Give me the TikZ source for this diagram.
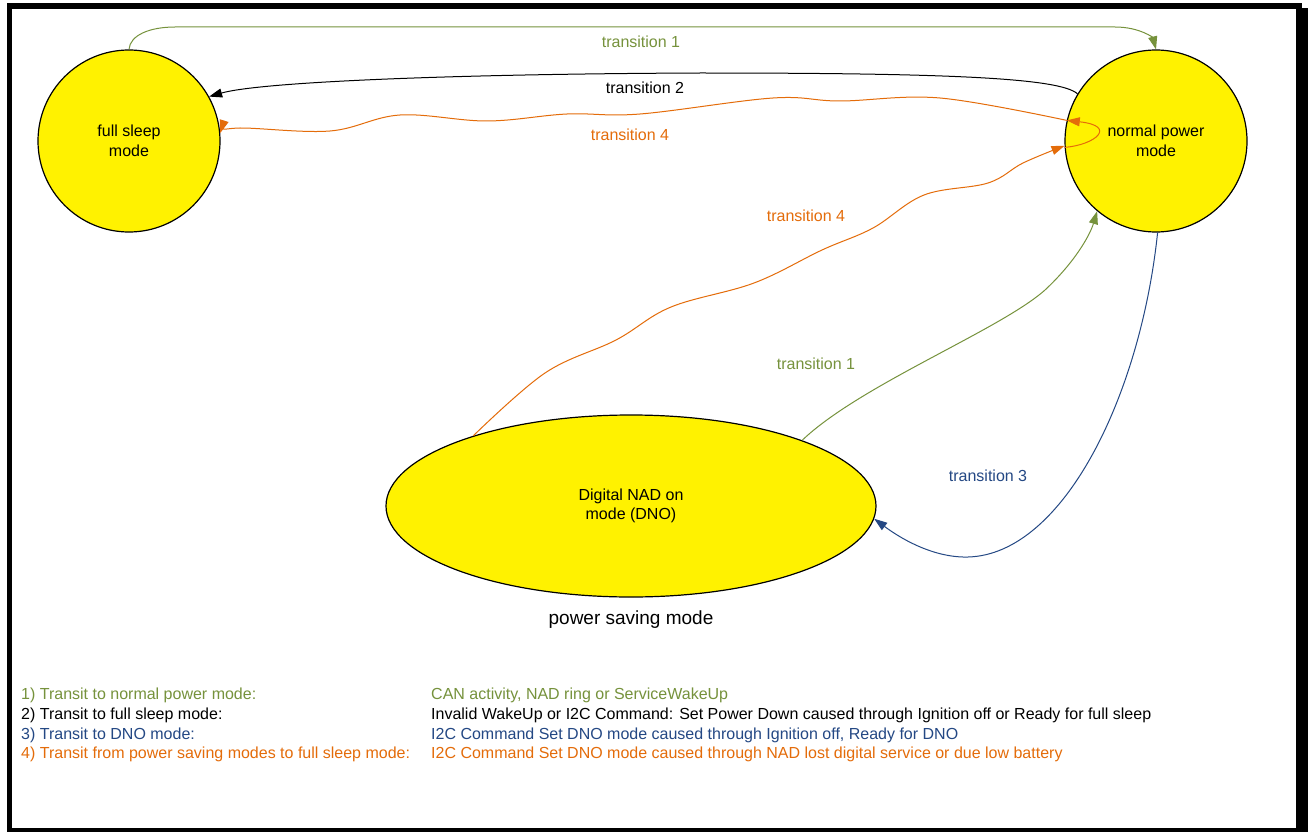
\documentclass[tikz,border=0pt]{standalone}
\usepackage{fontspec}
\setmainfont{Liberation Sans}
\usepackage{tikz}
\usetikzlibrary{arrows.meta,shapes.geometric}
\definecolor{olivegreen}{RGB}{118,146,60}
\definecolor{darkblue}{RGB}{36,72,132}
\definecolor{darkorange}{RGB}{228,108,10}
\tikzset{
  modecircle/.style={circle, draw=black, line width=1.2pt, fill=yellow, minimum size=182pt, inner sep=0pt, align=center, font=\fontsize{16}{19.5}\selectfont},
  trans/.style={line width=1pt, -{Triangle[length=13pt,width=9pt]}},
  lbl/.style={font=\fontsize{16}{19.5}\selectfont},
  legend/.style={anchor=base west, inner sep=0pt, font=\fontsize{16}{19.5}\selectfont}
}

\begin{document}
\begin{tikzpicture}[x=1pt,y=-1pt]
        \useasboundingbox (0,0) rectangle (1311,832);
        % Frame with shadow
        \fill[black] (7,3) rectangle (1302,832);
        \fill[black] (1302,8) rectangle (1308,832);
        \fill[white] (12,9) rectangle (1296,828);

        % States
        \node[modecircle] (sleep) at (129,141) {full sleep\\mode};
        \node[modecircle] (normal) at (1156,141) {normal power\\mode};
        \node[ellipse, draw=black, line width=1.2pt, fill=yellow, minimum width=490pt, minimum height=182pt, inner sep=0pt, align=center, font=\fontsize{16}{19.5}\selectfont] (dno) at (631,506) {Digital NAD on\\mode (DNO)};
        \node[font=\fontsize{19}{22}\selectfont] (saving) at (631,620) {power saving mode};

        % Transitions
        \draw[trans, olivegreen] (sleep.north) .. controls (130,35) and (150,27) .. (175,27) -- (1115,27) .. controls (1140,27) and (1153,38) .. (normal.north);
        \draw[trans, black] (normal.149) .. controls (1060,78) and (950,73) .. (700,73) .. controls (450,74) and (260,82) .. (sleep.29);
        \draw[trans, darkorange] plot[smooth, tension=0.6] coordinates {(normal.167) (940,98) (840,101) (773,98) (640,114) (567,114) (487,121) (400,115) (330,131) (240,128) (sleep.5)};
        \draw[trans, darkorange] plot[smooth, tension=0.6] coordinates {(dno.156) (545,373) (616,340) (671,307) (754,283) (822,250) (873,228) (924,195) (988,183) (1023,163) (normal.183)};
        \draw[trans, darkorange] (normal.184) .. controls (1095,145) and (1118,126) .. (normal.167);
        \draw[trans, olivegreen] (dno.21) .. controls (860,385) and (1000,330) .. (1045,290) .. controls (1075,262) and (1090,235) .. (normal.230);
        \draw[trans, darkblue] (normal.271) .. controls (1140,400) and (1060,560) .. (963,557) .. controls (930,556) and (900,538) .. (dno.357);

        % Transition labels
        \node[lbl, olivegreen] (t1a) at (641,42) {transition 1};
        \node[lbl, black] (t2) at (645,88) {transition 2};
        \node[lbl, darkorange] (t4a) at (630,135) {transition 4};
        \node[lbl, darkorange] (t4b) at (806,216) {transition 4};
        \node[lbl, olivegreen] (t1b) at (816,364) {transition 1};
        \node[lbl, darkblue] (t3) at (988,476) {transition 3};

        % Legend
        \node[legend, olivegreen] (k1) at (21,699) {1) Transit to normal power mode:};
        \node[legend, black] (k2) at (21,719) {2) Transit to full sleep mode:};
        \node[legend, darkblue] (k3) at (21,739) {3) Transit to DNO mode:};
        \node[legend, darkorange] (k4) at (21,758) {4) Transit from power saving modes to full sleep mode:};
        \node[legend, olivegreen] (v1) at (431,699) {CAN activity, NAD ring or ServiceWakeUp};
        \node[legend, black] (v2) at (431,719) {Invalid WakeUp or I2C Command: Set Power Down caused through Ignition off or Ready for full sleep};
        \node[legend, darkblue] (v3) at (431,739) {I2C Command Set DNO mode caused through Ignition off, Ready for DNO};
        \node[legend, darkorange] (v4) at (431,758) {I2C Command Set DNO mode caused through NAD lost digital service or due low battery};
    \end{tikzpicture}
\end{document}
